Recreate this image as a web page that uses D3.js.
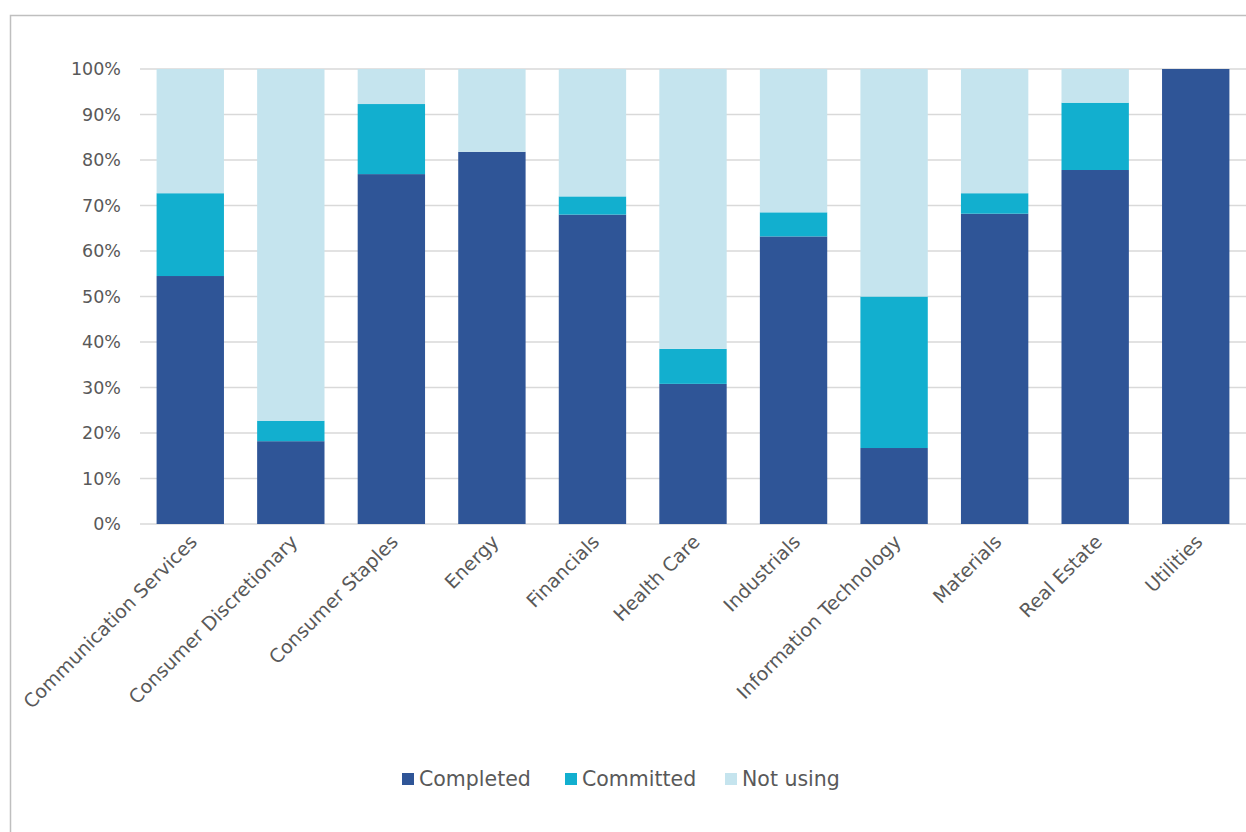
<!DOCTYPE html>
<html>
<head>
<meta charset="utf-8">
<title>Adoption by sector</title>
<script src="https://cdnjs.cloudflare.com/ajax/libs/d3/7.8.5/d3.min.js"></script>
<style>
    body { margin: 0; background: #fff; }
    svg text { font-family: "Century Gothic", "DejaVu Sans", sans-serif; fill: #595959; }
</style>
</head>
<body>
<svg id="chart" width="1246" height="832"></svg>
<script>
    // sectors and shares (%)
    var sectors = ["Communication Services", "Consumer Discretionary", "Consumer Staples", "Energy",
        "Financials", "Health Care", "Industrials", "Information Technology", "Materials",
        "Real Estate", "Utilities"];
    var completed = [54.5, 18.2, 76.9, 81.8, 68.0, 30.8, 63.2, 16.7, 68.2, 77.8, 100];
    var committed = [18.2, 4.5, 15.4, 0, 4.0, 7.7, 5.3, 33.3, 4.5, 14.8, 0];
    var notUsing = [27.3, 77.3, 7.7, 18.2, 28.0, 61.5, 31.5, 50.0, 27.3, 7.4, 0];
    var seriesNames = ["Completed", "Committed", "Not using"];
    var yTicks = [0, 10, 20, 30, 40, 50, 60, 70, 80, 90, 100];

    var colors = { "Completed": "#2F5597", "Committed": "#12AFCF", "Not using": "#C5E4EE" };

    var rows = sectors.map(function (s, i) {
        return { sector: s, "Completed": completed[i], "Committed": committed[i], "Not using": notUsing[i] };
    });

    var svg = d3.select("#chart");

    // outer frame
    svg.append("rect")
        .attr("x", 10.5).attr("y", 15.5)
        .attr("width", 1260).attr("height", 840)
        .attr("fill", "none").attr("stroke", "#BFBFBF").attr("stroke-width", 1.5);

    var x = d3.scaleBand().domain(sectors).range([140, 1246]).paddingInner(0.33).paddingOuter(0.165);
    var y = d3.scaleLinear().domain([0, 100]).range([524, 69]);

    // gridlines
    svg.append("g").selectAll("line")
        .data(yTicks)
        .enter().append("line")
        .attr("x1", 140).attr("x2", 1246)
        .attr("y1", function (d) { return y(d); }).attr("y2", function (d) { return y(d); })
        .attr("stroke", "#D9D9D9").attr("stroke-width", 1.5);

    // y labels
    svg.append("g").selectAll("text")
        .data(yTicks)
        .enter().append("text")
        .attr("x", 121)
        .attr("y", function (d) { return y(d); })
        .attr("dy", "0.35em")
        .attr("text-anchor", "end")
        .style("font-size", "17.5px")
        .text(function (d) { return d + "%"; });

    var stacked = d3.stack().keys(seriesNames)(rows);

    svg.append("g").selectAll("g")
        .data(stacked)
        .enter().append("g")
        .attr("fill", function (d) { return colors[d.key]; })
        .selectAll("rect")
        .data(function (d) { return d; })
        .enter().append("rect")
        .attr("x", function (d) { return x(d.data.sector); })
        .attr("y", function (d) { return y(d[1]); })
        .attr("width", x.bandwidth())
        .attr("height", function (d) { return y(d[0]) - y(d[1]); });

    // rotated category labels
    svg.append("g").selectAll("text")
        .data(sectors)
        .enter().append("text")
        .attr("transform", function (d) {
            return "translate(" + (x(d) + x.bandwidth() / 2 + 8) + ",543) rotate(-45)";
        })
        .attr("text-anchor", "end")
        .style("font-size", "19px")
        .text(function (d) { return d; });

    // legend
    var legendX = [402, 565, 725];
    var legend = svg.append("g").selectAll("g")
        .data(seriesNames)
        .enter().append("g")
        .attr("transform", function (d, i) { return "translate(" + legendX[i] + ",773)"; });
    legend.append("rect").attr("width", 12).attr("height", 12)
        .attr("fill", function (d) { return colors[d]; });
    legend.append("text").attr("x", 17).attr("y", 6).attr("dy", "0.35em")
        .style("font-size", "20.5px")
        .text(function (d) { return d; });
</script>
</body>
</html>
